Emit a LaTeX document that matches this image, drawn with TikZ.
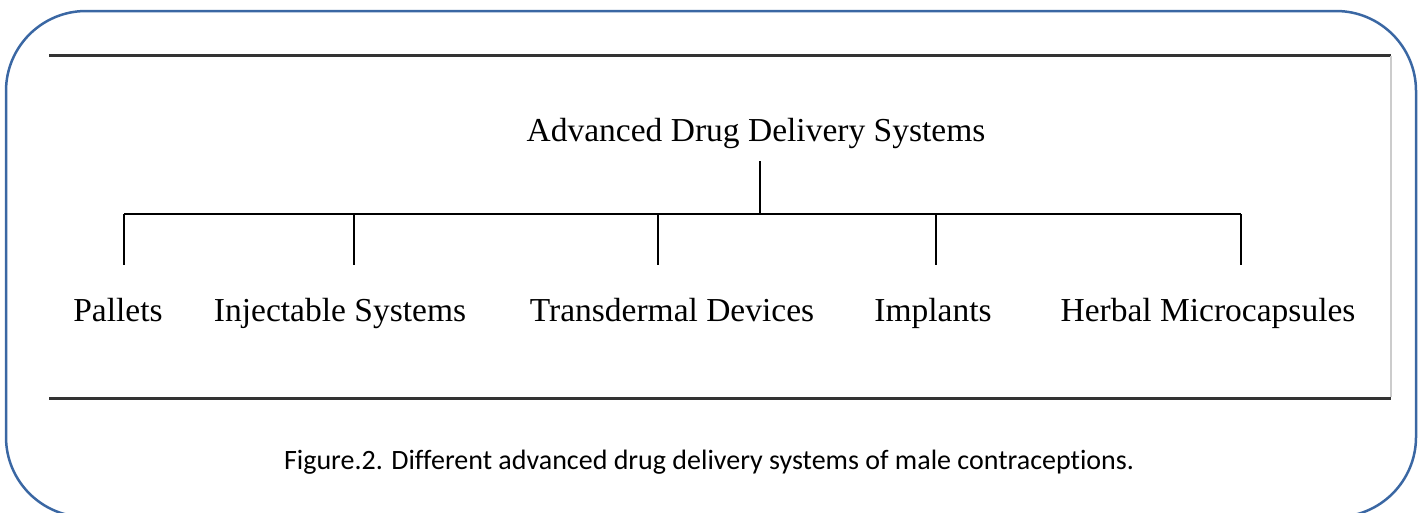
\documentclass[tikz,border=0pt]{standalone}
\usepackage{fontspec}
\setmainfont{Liberation Serif}
\newfontfamily\captionfont[Ligatures=NoCommon]{Carlito}
\usetikzlibrary{positioning}
\definecolor{frameblue}{HTML}{3A67A3}

\begin{document}
\begin{tikzpicture}[x=1pt, y=-1pt,
        frame/.style={draw=frameblue, line width=2.5pt, rounded corners=80pt},
        rule/.style={draw=black!80, line width=3pt},
        item/.style={font=\fontsize{33.5}{36}\selectfont, inner sep=0pt, anchor=base},
        line/.style={-, line width=1.5pt}
    ]
        \useasboundingbox (0,0) rectangle (1418,512);

        % Outer frame
        \draw[frame] (6,11) rectangle (1416,517);
        \draw[rule] (49,55) -- (1391,55);
        \draw[rule] (49,398) -- (1391,398);
        \draw[draw=black!20, line width=2pt] (1391,56) -- (1391,397);

        % Root
        \node[item] (title) at (756,141) {Advanced Drug Delivery Systems};
        \coordinate (hub) at (760,214);
        \draw[line] ([yshift=-13pt]title.south -| hub) -- (hub);

        % Branches
        \coordinate (t1) at (124,214);
        \coordinate (t2) at (354,214);
        \coordinate (t3) at (658,214);
        \coordinate (t4) at (936,214);
        \coordinate (t5) at (1241,214);
        \draw[line] (t1) -- (t5);
        \foreach \i in {1,...,5} {
            \coordinate (b\i) at ([yshift=-51pt]t\i);
            \draw[line] (t\i) -- (b\i);
        }

        % Leaves
        \node[item] (pallets) at (118,321) {Pallets};
        \node[item] (inject) at (340,321) {Injectable Systems};
        \node[item] (trans) at (672,321) {Transdermal Devices};
        \node[item] (implant) at (933,321) {Implants};
        \node[item] (herbal) at (1208,321) {Herbal Microcapsules};

        % Caption
        \node[font=\captionfont\fontsize{28}{32}\selectfont, inner sep=0pt, anchor=base] (caption) at (709,469)
            {Figure.2. Different advanced drug delivery systems of male contraceptions.};

    \end{tikzpicture}
\end{document}
